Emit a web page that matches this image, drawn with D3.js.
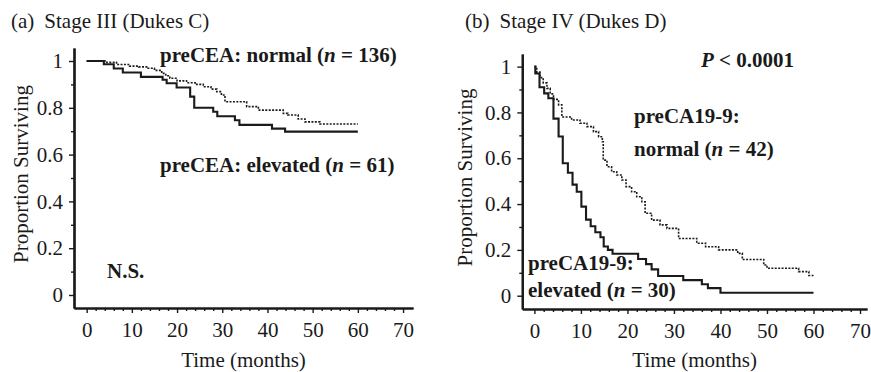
<!DOCTYPE html>
<html>
<head>
<meta charset="utf-8">
<script src="https://cdn.jsdelivr.net/npm/d3@7"></script>
<style>
	body { margin: 0; background: #fff; }
	svg { display: block; }
	text { font-family: "Liberation Serif", "Times New Roman", serif; fill: #1a1a1a; }
	.lbl { font-weight: bold; }
</style>
</head>
<body>
<svg id="chart" width="871" height="372"></svg>
<script>
// tick labels
var yTicks = [0, 0.2, 0.4, 0.6, 0.8, 1],
	yMinor = [0.1, 0.3, 0.5, 0.7, 0.9],
	xTicks = [0, 10, 20, 30, 40, 50, 60, 70],
	xMinor = d3.range(2, 70, 2).filter(function(d) {return d % 10 !== 0;});

// (a) Stage III, preCEA normal (dotted) and elevated (solid)
var cNormT = [0, 4.1, 6.6, 9.5, 11.5, 13.6, 15.0, 16.6, 17.5, 18.4, 20.0, 22.1, 24.0, 25.8, 27.5, 28.8, 29.8, 30.6, 35.4, 38.0, 43.5, 44.5, 46.8, 48.3, 51.6];
var cNormS = [1, 0.995, 0.985, 0.978, 0.975, 0.969, 0.96, 0.947, 0.937, 0.926, 0.915, 0.907, 0.9, 0.89, 0.88, 0.869, 0.855, 0.826, 0.805, 0.79, 0.776, 0.769, 0.752, 0.74, 0.731];
var cElevT = [0, 3.8, 6.0, 8.0, 12.0, 16.8, 17.7, 19.9, 22.9, 23.8, 28.0, 28.9, 32.8, 33.8, 41.0, 43.9];
var cElevS = [1, 0.986, 0.968, 0.951, 0.932, 0.92, 0.905, 0.887, 0.848, 0.8, 0.783, 0.764, 0.747, 0.727, 0.711, 0.698];

// (b) Stage IV, preCA19-9 normal (dotted) and elevated (solid)
var dNormT = [0, 0.5, 1.2, 1.9, 2.7, 3.4, 4.1, 5.2, 5.9, 8.0, 9.8, 11.3, 12.7, 13.8, 14.6, 14.8, 15.6, 16.6, 17.7, 18.8, 19.7, 20.9, 22.0, 23.1, 23.8, 25.2, 27.0, 28.5, 31.0, 34.9, 36.8, 39.6, 43.7, 44.7, 49.3, 50.0, 56.8, 59.0];
var dNormS = [1, 0.976, 0.952, 0.929, 0.905, 0.881, 0.857, 0.833, 0.78, 0.767, 0.753, 0.738, 0.716, 0.694, 0.672, 0.592, 0.563, 0.541, 0.527, 0.505, 0.476, 0.454, 0.432, 0.41, 0.36, 0.33, 0.309, 0.294, 0.25, 0.229, 0.214, 0.2, 0.185, 0.158, 0.134, 0.12, 0.105, 0.088];
var dElevT = [0, 0.2, 1.1, 2.1, 3.0, 4.1, 5.2, 6.1, 7.2, 8.2, 9.1, 10.1, 11.1, 12.1, 13.1, 14.2, 14.9, 15.8, 16.8, 22.3, 24.0, 25.2, 26.6, 32.0, 36.0, 37.3, 40.0];
var dElevS = [1, 0.97, 0.91, 0.883, 0.862, 0.773, 0.695, 0.578, 0.537, 0.485, 0.454, 0.389, 0.332, 0.303, 0.277, 0.255, 0.215, 0.2, 0.183, 0.16, 0.138, 0.115, 0.086, 0.068, 0.05, 0.033, 0.013];

var endTime = 60;

var svg = d3.select("#chart");

function toSteps(ts, ss){
	var pts = ts.map(function(t, i) {return [t, ss[i]];});
	pts.push([endTime, ss[ss.length - 1]]);
	return pts;
}

function drawPanel(p){
	// axis scales stretch a bit past the data range, like the original frame
	var x = d3.scaleLinear().domain(p.xDom).range(p.xRange),
		y = d3.scaleLinear().domain(p.yDom).range(p.yRange);
	var g = svg.append("g");

	g.append("g")
		.attr("transform", "translate(0," + p.yRange[0] + ")")
		.call(d3.axisBottom(x).tickValues(xMinor).tickSize(3).tickFormat("").tickSizeOuter(0));
	g.append("g")
		.attr("transform", "translate(0," + p.yRange[0] + ")")
		.call(d3.axisBottom(x).tickValues(xTicks).tickSize(5).tickPadding(9).tickSizeOuter(0));
	g.append("g")
		.attr("transform", "translate(" + p.xRange[0] + ",0)")
		.call(d3.axisLeft(y).tickValues(yMinor).tickSize(3).tickFormat("").tickSizeOuter(0));
	g.append("g")
		.attr("transform", "translate(" + p.xRange[0] + ",0)")
		.call(d3.axisLeft(y).tickValues(yTicks).tickSize(5).tickPadding(6).tickSizeOuter(0)
			.tickFormat(d3.format("~g")));

	g.selectAll(".domain").attr("stroke", "#1a1a1a").attr("stroke-width", 2.2);
	g.selectAll(".tick line").attr("stroke", "#1a1a1a").attr("stroke-width", 1.4);
	g.selectAll(".tick text")
		.style("font-family", "'Liberation Serif', 'Times New Roman', serif")
		.style("font-size", "21px")
		.attr("fill", "#1a1a1a");

	var line = d3.line()
		.curve(d3.curveStepAfter)
		.x(function(d) {return x(d[0]);})
		.y(function(d) {return y(d[1]);});

	g.append("path")
		.datum(toSteps(p.normT, p.normS))
		.attr("d", line)
		.attr("fill", "none")
		.attr("stroke", "#1a1a1a")
		.attr("stroke-width", 1.6)
		.attr("stroke-dasharray", "2,1.4");
	g.append("path")
		.datum(toSteps(p.elevT, p.elevS))
		.attr("d", line)
		.attr("fill", "none")
		.attr("stroke", "#1a1a1a")
		.attr("stroke-width", 2.1);

	// titles
	var title = g.append("text")
		.attr("x", p.titleX)
		.attr("y", 28)
		.style("font-size", "21px");
	title.append("tspan").text(p.tag);
	title.append("tspan").attr("dx", 10).text(p.title);

	var xMid = (p.xRange[0] + p.xRange[1]) / 2,
		yMid = (p.yRange[0] + p.yRange[1]) / 2;
	g.append("text")
		.attr("x", xMid)
		.attr("y", 367)
		.attr("text-anchor", "middle")
		.style("font-size", "21px")
		.text("Time (months)");
	g.append("text")
		.attr("transform", "translate(" + p.yLabelX + "," + (yMid - 4) + ") rotate(-90)")
		.attr("text-anchor", "middle")
		.style("font-size", "21px")
		.text("Proportion Surviving");

	p.labels.forEach(function(l){
		var t = g.append("text")
			.attr("class", "lbl")
			.attr("x", l.x)
			.attr("y", l.y)
			.style("font-size", "21px");
		l.parts.forEach(function(part){
			var s = t.append("tspan").text(part[0]);
			if(part[1]) s.style("font-style", "italic");
		});
	});
}

drawPanel({
	tag: "(a)", title: "Stage III (Dukes C)", titleX: 11,
	xDom: [-2.8, 72.2], xRange: [74, 413],
	yDom: [-0.0556, 1.0556], yRange: [308, 48],
	yLabelX: 28,
	normT: cNormT, normS: cNormS, elevT: cElevT, elevS: cElevS,
	labels: [
		{x: 160, y: 62, parts: [["preCEA: normal ("], ["n", true], [" = 136)"]]},
		{x: 160, y: 172, parts: [["preCEA: elevated ("], ["n", true], [" = 61)"]]},
		{x: 107, y: 278, parts: [["N.S."]]}
	]
});

drawPanel({
	tag: "(b)", title: "Stage IV (Dukes D)", titleX: 465,
	xDom: [-2.6, 71.5], xRange: [522.3, 867],
	yDom: [-0.058, 1.055], yRange: [309, 54],
	yLabelX: 472,
	normT: dNormT, normS: dNormS, elevT: dElevT, elevS: dElevS,
	labels: [
		{x: 701, y: 67, parts: [["P", true], [" < 0.0001"]]},
		{x: 634, y: 123, parts: [["preCA19-9:"]]},
		{x: 634, y: 156, parts: [["normal ("], ["n", true], [" = 42)"]]},
		{x: 528, y: 270, parts: [["preCA19-9:"]]},
		{x: 528, y: 297, parts: [["elevated ("], ["n", true], [" = 30)"]]}
	]
});
</script>
</body>
</html>
